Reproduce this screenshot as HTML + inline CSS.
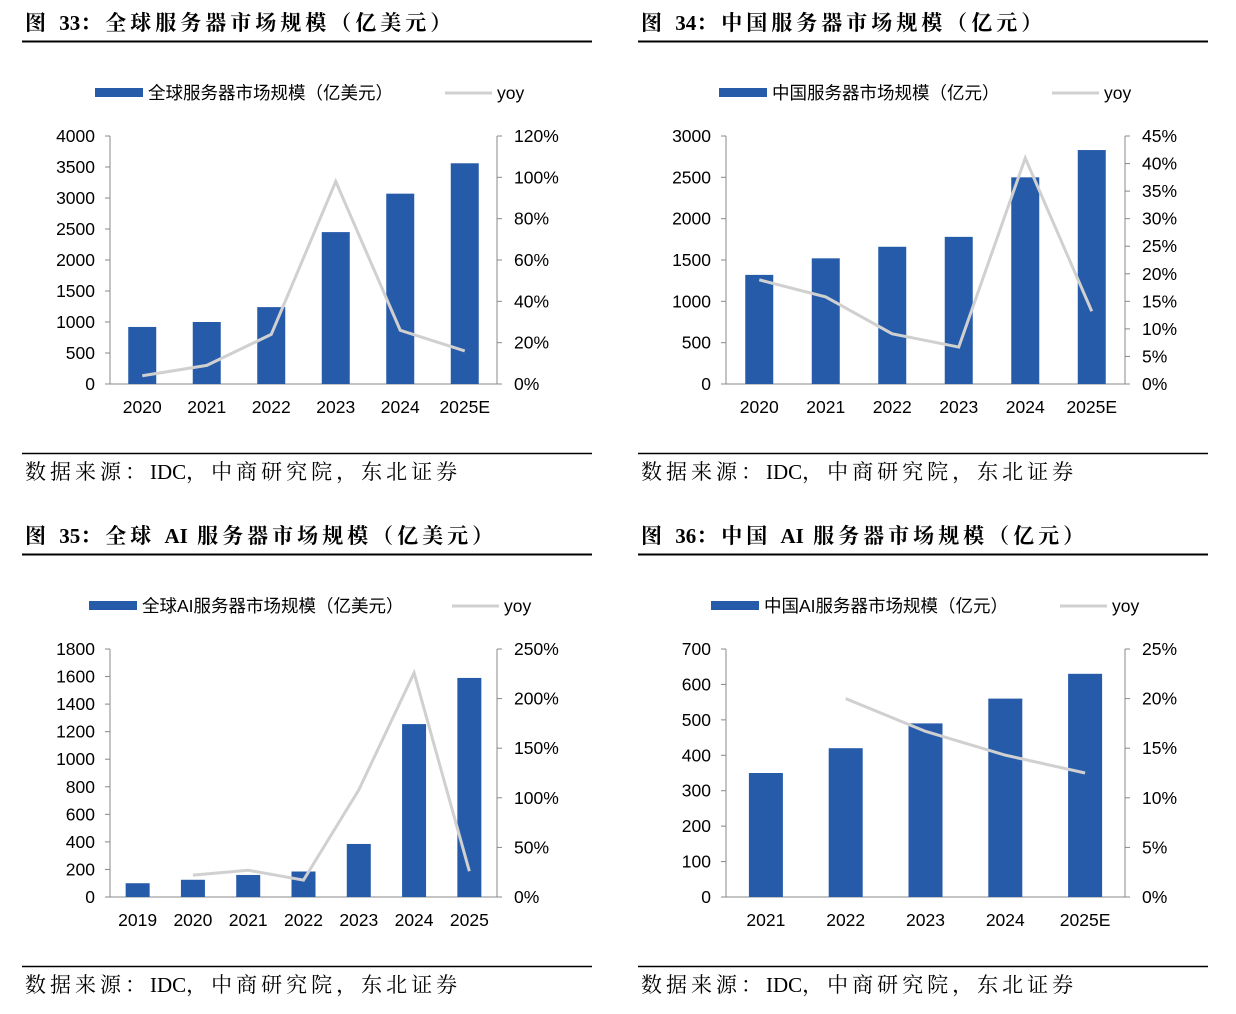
<!DOCTYPE html>
<html><head><meta charset="utf-8"><style>
html,body{margin:0;padding:0;background:#fff;}
svg{display:block;}
.t{font-family:"Liberation Serif","Noto Serif CJK SC",serif;font-weight:bold;font-size:21px;fill:#000;letter-spacing:4px;}
.s{font-family:"Liberation Serif","Noto Serif CJK SC",serif;font-size:21px;fill:#000;letter-spacing:4px;}
.n{letter-spacing:0;}
.a{font-family:"Liberation Sans","Noto Sans CJK SC",sans-serif;font-size:17.5px;fill:#000;}
</style></head><body>
<svg id="root" width="1236" height="1014" viewBox="0 0 1236 1014" xmlns="http://www.w3.org/2000/svg"></svg>
<script>
// Chart 33
const c1Cats=["2020","2021","2022","2023","2024","2025E"];
const c1Bars=[920,1000,1240,2450,3070,3560];
const c1Yoy=[4,9,24,98,26,16];
const c1Left=[0,500,1000,1500,2000,2500,3000,3500,4000];
const c1Right=[0,20,40,60,80,100,120];
// Chart 34
const c2Cats=["2020","2021","2022","2023","2024","2025E"];
const c2Bars=[1320,1520,1660,1780,2500,2830];
const c2Yoy=[18.9,15.8,9.1,6.7,41,13.2];
const c2Left=[0,500,1000,1500,2000,2500,3000];
const c2Right=[0,5,10,15,20,25,30,35,40,45];
// Chart 35
const c3Cats=["2019","2020","2021","2022","2023","2024","2025"];
const c3Bars=[100,125,160,185,385,1255,1590];
const c3Yoy=[null,22,27,17,108,226,26];
const c3Left=[0,200,400,600,800,1000,1200,1400,1600,1800];
const c3Right=[0,50,100,150,200,250];
// Chart 36
const c4Cats=["2021","2022","2023","2024","2025E"];
const c4Bars=[350,420,490,560,630];
const c4Yoy=[null,20,16.7,14.3,12.5];
const c4Left=[0,100,200,300,400,500,600,700];
const c4Right=[0,5,10,15,20,25];

const NS="http://www.w3.org/2000/svg";
const root=document.getElementById('root');
function mk(tag,attrs,parent,text){const e=document.createElementNS(NS,tag);for(const k in attrs)e.setAttribute(k,attrs[k]);if(text!==undefined)e.textContent=text;(parent||root).appendChild(e);return e;}
function rich(parent,parts){parts.forEach(p=>{if(typeof p==='string')mk('tspan',{},parent,p);else mk('tspan',{class:'n'},parent,p[0]);});}

function panel(ox,oy,titleParts,legendBar,cats,bars,yoy,lt,rt,barW,legX,yoyX,R){
  const g=mk('g',{transform:`translate(${ox},${oy})`});
  
  
  const ti=mk('text',{x:3,y:30,class:'t'},g);
  rich(ti,titleParts);
  
  
  const r1=mk('line',{x1:0,x2:570,y1:41.5,y2:41.5,stroke:'#000','stroke-width':2},g);
  
  
  const lg=mk('g',{},g);
  
  
  mk('rect',{x:legX,y:88,width:48,height:9,fill:'#265BAA'},lg);
  mk('text',{x:legX+53,y:99,class:'a'},lg,legendBar);
  mk('line',{x1:yoyX,x2:yoyX+47,y1:93,y2:93,stroke:'#D0D0D0','stroke-width':3},lg);
  mk('text',{x:yoyX+52,y:99,class:'a'},lg,'yoy');
  const L=88,T=136,B=384;
  const lmax=lt[lt.length-1],rmax=rt[rt.length-1];
  const yl=v=>B-(v/lmax)*(B-T), yr=v=>B-(v/rmax)*(B-T);
  const band=(R-L)/cats.length, xc=i=>L+band*(i+0.5);
  mk('line',{x1:L,x2:L,y1:T,y2:B,stroke:'#888'},g);
  mk('line',{x1:R,x2:R,y1:T,y2:B,stroke:'#888'},g);
  mk('line',{x1:L,x2:R,y1:B,y2:B,stroke:'#888'},g);
  lt.forEach(v=>{mk('line',{x1:L-5,x2:L,y1:yl(v),y2:yl(v),stroke:'#888'},g);
    const t=mk('text',{x:L-15,y:yl(v)+6,class:'a','text-anchor':'end'},g,String(v));
    });
  rt.forEach(v=>{mk('line',{x1:R,x2:R+5,y1:yr(v),y2:yr(v),stroke:'#888'},g);
    const t=mk('text',{x:R+17,y:yr(v)+6,class:'a'},g,v+'%');
    });
  cats.forEach((c,i)=>{
    const b=mk('rect',{x:xc(i)-barW/2,y:yl(bars[i]),width:barW,height:B-yl(bars[i]),fill:'#265BAA'},g);
    
    
    const t=mk('text',{x:xc(i),y:B+29,class:'a','text-anchor':'middle'},g,c);
    
  });
  const pts=[];yoy.forEach((v,i)=>{if(v!==null)pts.push(xc(i)+','+yr(v));});
  const pl=mk('polyline',{points:pts.join(' '),fill:'none',stroke:'#D0D0D0','stroke-width':3},g);
  
  
  const r2=mk('line',{x1:0,x2:570,y1:453.5,y2:453.5,stroke:'#000','stroke-width':1.5},g);
  
  const st=mk('text',{x:3,y:479,class:'s'},g);
  rich(st,['数据来源：',['IDC'],'，中商研究院，东北证券']);
  
}
panel(22,0,['图 ',['33'],'：全球服务器市场规模（亿美元）'],'全球服务器市场规模（亿美元）',c1Cats,c1Bars,c1Yoy,c1Left,c1Right,28,73,423,475);
panel(638,0,['图 ',['34'],'：中国服务器市场规模（亿元）'],'中国服务器市场规模（亿元）',c2Cats,c2Bars,c2Yoy,c2Left,c2Right,28,81,414,487);
panel(22,513,['图 ',['35'],'：全球 ',['AI'],' 服务器市场规模（亿美元）'],'全球AI服务器市场规模（亿美元）',c3Cats,c3Bars,c3Yoy,c3Left,c3Right,24,67,430,475);
panel(638,513,['图 ',['36'],'：中国 ',['AI'],' 服务器市场规模（亿元）'],'中国AI服务器市场规模（亿元）',c4Cats,c4Bars,c4Yoy,c4Left,c4Right,34,73,422,487);
</script>
</body></html>
